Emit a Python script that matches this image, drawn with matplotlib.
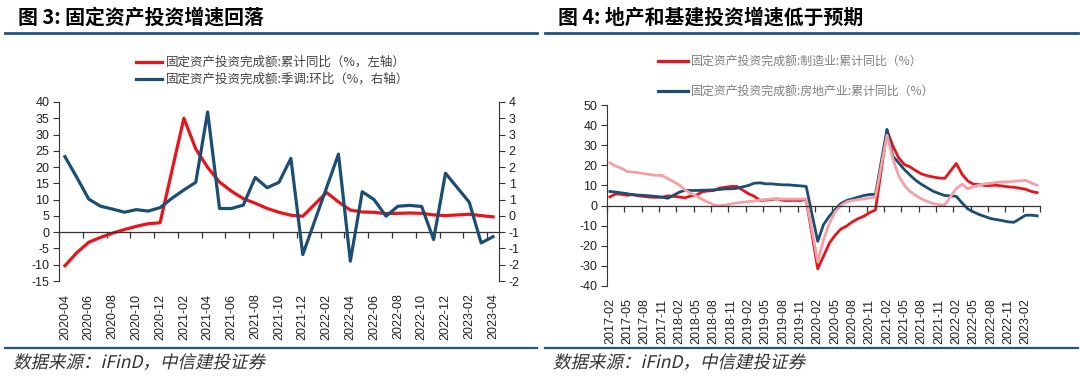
"""
Two FAI charts side by side: total FAI growth (left) and manufacturing /
real estate / infrastructure FAI growth (right).
"""

import numpy as np
import pandas as pd
import matplotlib
matplotlib.use("Agg")
import matplotlib.pyplot as plt
from matplotlib.lines import Line2D
from matplotlib.patheffects import AbstractPathEffect
from matplotlib.transforms import Affine2D

nan = np.nan

# ---- data: figure 3 (monthly, 2020-04 .. 2023-04) ----
left_months = pd.period_range("2020-04", "2023-04", freq="M").strftime("%Y-%m").tolist()

# cumulative YoY (%), left axis; January not published
fai_cum_yoy = [
    -10.3, -6.3, -3.1, -1.6, -0.3, 0.8, 1.8, 2.6, 2.9,
    nan, 35.0, 25.6, 19.9, 15.4, 12.6, 10.3, 8.9, 7.3, 6.1, 5.2, 4.9,
    nan, 12.2, 9.3, 6.8, 6.2, 6.1, 5.7, 5.8, 5.9, 5.8, 5.3, 5.1,
    nan, 5.5, 5.1, 4.7,
]

# seasonally adjusted MoM (%), right axis
fai_mom_sa = [
    2.08, 1.35, 0.59, 0.34, 0.24, 0.13, 0.22, 0.17, 0.29,
    0.62, 0.91, 1.18, 3.65, 0.26, 0.26, 0.38, 1.35, 0.99, 1.18, 2.02, -1.36,
    -0.18, 0.99, 2.17, -1.59, 0.85, 0.57, -0.01, 0.34, 0.37, 0.33, -0.83, 1.50,
    0.99, 0.48, -0.95, -0.73,
]

# ---- data: figure 4 (monthly, 2017-02 .. 2023-04) ----
right_months = pd.period_range("2017-02", "2023-04", freq="M").strftime("%Y-%m").tolist()

mfg_yoy = [
    4.3, 5.8, 5.6, 5.1, 5.5, 4.8, 4.5, 4.2, 4.1, 4.1, 4.8,
    nan, 4.3, 3.8, 4.8, 5.2, 6.8, 7.3, 7.5, 8.7, 9.1, 9.5, 9.5,
    nan, 5.9, 4.6, 2.5, 2.7, 3.0, 3.3, 2.6, 2.5, 2.6, 2.5, 3.1,
    nan, -31.5, -25.2, -18.8, -14.8, -11.7, -10.2, -8.1, -6.5, -5.3, -3.5, -2.2,
    nan, 37.3, 29.8, 23.8, 20.4, 19.2, 17.3, 15.7, 14.8, 14.2, 13.7, 13.5,
    nan, 20.9, 15.6, 12.2, 10.6, 10.4, 9.9, 10.0, 10.1, 9.7, 9.3, 9.1,
    nan, 8.1, 7.0, 6.4,
]

realestate_yoy = [
    7.0, 6.7, 6.3, 5.9, 5.3, 5.2, 5.0, 4.8, 4.5, 4.2, 3.6,
    nan, 6.6, 7.6, 7.5, 7.5, 7.6, 7.7, 7.8, 8.0, 8.3, 8.3, 8.6,
    nan, 10.0, 11.1, 11.3, 10.8, 10.8, 10.5, 10.3, 10.3, 10.0, 9.8, 9.5,
    nan, -17.8, -9.5, -5.3, -2.0, 1.0, 2.5, 3.3, 4.2, 5.0, 5.5, 5.6,
    nan, 37.9, 24.6, 21.3, 17.9, 15.1, 12.5, 10.5, 8.8, 7.1, 6.0, 5.0,
    nan, 4.6, 1.3, -1.7, -3.2, -4.5, -5.5, -6.5, -7.0, -7.5, -8.1, -8.3,
    nan, -4.8, -4.8, -5.1,
]

infra_yoy = [
    21.3, 19.6, 18.6, 16.9, 16.6, 16.3, 15.8, 15.4, 15.0, 15.0, 13.5,
    nan, 10.3, 7.8, 6.1, 4.7, 3.0, 1.7, 0.3, 0.0, 0.2, 0.8, 1.3,
    nan, 2.0, 2.3, 2.7, 3.0, 3.3, 3.3, 3.2, 3.2, 3.2, 3.2, 3.3,
    nan, -28.0, -17.0, -9.0, -3.2, 0.0, 1.8, 2.5, 3.0, 3.3, 3.8, 4.2,
    nan, 35.0, 23.5, 15.0, 10.0, 7.0, 5.0, 3.2, 2.0, 1.0, 0.4, 0.4,
    nan, 8.5, 10.6, 8.3, 9.5, 10.1, 10.8, 11.1, 11.5, 11.8, 11.8, 12.1,
    nan, 12.5, 11.3, 10.1,
]

left_legend = ["固定资产投资完成额:累计同比（%，左轴）", "固定资产投资完成额:季调:环比（%，右轴）"]
right_legend = ["固定资产投资完成额:制造业:累计同比（%）", "固定资产投资完成额:房地产业:累计同比（%）"]
titles = ["图 3: 固定资产投资增速回落", "图 4: 地产和基建投资增速低于预期"]
source = "数据来源：iFinD，中信建投证券"

# ---- style ----
RED = "#E8141B"
BLUE = "#1B4E74"
PINK = "#F3A0A6"
RULE = "#1F5584"
AXC = "#333333"
CJK = ["Noto Sans CJK SC", "DejaVu Sans"]
W, H = 1080, 376

plt.rcParams["font.family"] = ["Liberation Sans", "DejaVu Sans"]
plt.rcParams["axes.unicode_minus"] = False


class Oblique(AbstractPathEffect):
    """Fake italic: shear glyph outlines (the CJK font has no italic face)."""

    def __init__(self, shear=0.22):
        super().__init__()
        self._shear = shear

    def draw_path(self, renderer, gc, tpath, affine, rgbFace=None):
        renderer.draw_path(gc, tpath, Affine2D().skew(self._shear, 0) + affine, rgbFace)


def fx(px):
    return px / W


def fy(py):
    return 1 - py / H


def plot_gapless(ax, y, **kw):
    y = np.asarray(y, dtype=float)
    x = np.arange(len(y))
    m = ~np.isnan(y)
    return ax.plot(x[m], y[m], **kw)


def setup_xaxis(ax, labels, step):
    n = len(labels)
    ax.set_xlim(-0.5, n - 0.5)
    # axis line with tick marks sits at y = 0
    ax.spines["bottom"].set_position(("data", 0))
    ax.spines["bottom"].set_color(AXC)
    ax.spines["bottom"].set_linewidth(0.9)
    ax.set_xticks(np.arange(-0.5, n, step))
    ax.tick_params(axis="x", direction="out", length=4, width=0.9, color=AXC,
                   labelbottom=False)
    # labels at the bottom of the plot area
    sec = ax.secondary_xaxis(0)
    sec.spines["bottom"].set_visible(False)
    pos = np.arange(0, n, step)
    sec.set_xticks(pos, [labels[i] for i in pos], rotation=90)
    sec.tick_params(axis="x", length=0, pad=9, labelsize=9, labelcolor="#222222")


fig = plt.figure(figsize=(W / 100, H / 100), dpi=100)

# ---------------- left chart ----------------
ax1 = fig.add_axes([fx(59), fy(281), fx(440), 179 / H])
ax1.set_ylim(-15, 40)
ax1.set_yticks(np.arange(-15, 41, 5))
for s in ["top", "right"]:
    ax1.spines[s].set_visible(False)
ax1.spines["left"].set_color(AXC)
ax1.tick_params(axis="y", direction="out", length=4, color=AXC, labelsize=9,
                labelcolor="#222222", pad=3)
setup_xaxis(ax1, left_months, 2)
plot_gapless(ax1, fai_cum_yoy, color=RED, lw=2.3, solid_joinstyle="round")

ax1r = ax1.twinx()
r_lo, r_hi = (-15 - 5) / 8.75, (40 - 5) / 8.75
ax1r.set_ylim(r_lo, r_hi)
rt = [(v - 5) / 8.75 for v in range(-15, 41, 5)]
ax1r.set_yticks(rt, [str(int(round(v))) for v in rt])
for s in ["top", "left", "bottom"]:
    ax1r.spines[s].set_visible(False)
ax1r.spines["right"].set_color(AXC)
ax1r.tick_params(axis="y", direction="out", length=4, color=AXC, labelsize=9,
                 labelcolor="#222222", pad=3)
plot_gapless(ax1r, fai_mom_sa, color=BLUE, lw=2.3, solid_joinstyle="round")

# ---------------- right chart ----------------
ax2 = fig.add_axes([fx(607), fy(286), fx(433), 181 / H])
ax2.set_ylim(-40, 50)
ax2.set_yticks(np.arange(-40, 51, 10))
for s in ["top", "right"]:
    ax2.spines[s].set_visible(False)
ax2.spines["left"].set_color(AXC)
ax2.tick_params(axis="y", direction="out", length=4, color=AXC, labelsize=9,
                labelcolor="#222222", pad=3)
setup_xaxis(ax2, right_months, 3)
plot_gapless(ax2, mfg_yoy, color=RED, lw=2.0, solid_joinstyle="round")
plot_gapless(ax2, realestate_yoy, color=BLUE, lw=2.0, solid_joinstyle="round")
plot_gapless(ax2, infra_yoy, color=PINK, lw=2.0, solid_joinstyle="round")

# ---------------- legends ----------------
for (y, c, lab) in zip([62, 79], [RED, BLUE], left_legend):
    fig.add_artist(Line2D([fx(136), fx(162)], [fy(y), fy(y)], color=c, lw=2.3))
    fig.text(fx(166), fy(y), lab, family=CJK, fontsize=9.0, color="#444444",
             va="center", ha="left")
for (y, c, lab) in zip([61, 91], [RED, BLUE], right_legend):
    fig.add_artist(Line2D([fx(658), fx(688)], [fy(y), fy(y)], color=c, lw=2.3))
    fig.text(fx(691), fy(y), lab, family=CJK, fontsize=8.6, color="#7F7F7F",
             va="center", ha="left")

# ---------------- titles, rules, source ----------------
for x0, x1, t in [(5, 537, titles[0]), (545, 1078, titles[1])]:
    fig.text(fx(x0 + 13), fy(17), t, family=CJK, fontsize=14.3, fontweight="bold",
             color="black", va="center", ha="left")
    fig.add_artist(Line2D([fx(x0), fx(x1)], [fy(33), fy(33)], color=RULE, lw=2.0))
    fig.add_artist(Line2D([fx(x0), fx(x1)], [fy(348), fy(348)], color=RULE, lw=1.6))
    fig.text(fx(x0 + 8), fy(363), source, family=CJK, fontsize=12.6,
             color="#333333", va="center", ha="left", path_effects=[Oblique()])

fig.savefig("out.png", dpi=100)
